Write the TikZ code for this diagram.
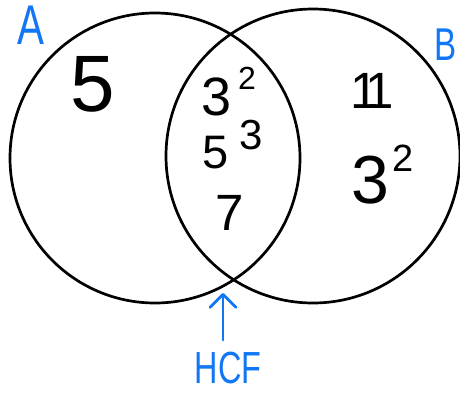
\documentclass[tikz,border=0pt]{standalone}
\usepackage{fontspec}
\setmainfont{Liberation Sans}
\newfontfamily\narrowfont[FakeStretch=0.72]{Liberation Sans}
\usepackage{tikz}
\usetikzlibrary{arrows.meta}
\definecolor{HBlue}{HTML}{1277F5}

\begin{document}
\begin{tikzpicture}[x=1pt,y=-1pt,
  every node/.style={inner sep=0pt,outer sep=0pt},
  set/.style={draw,circle,line width=2.7pt},
  num/.style={font=\fontsize{#1}{#1}\selectfont},
  tag/.style={text=HBlue,font=\narrowfont\fontsize{#1}{#1}\selectfont},
  arr/.style={-{Straight Barb[length=13pt,width=26pt,round]},line width=2.8pt,
    color=HBlue,line cap=round}
]
  \useasboundingbox (0,0) rectangle (460,394);
  % the two sets
  \node[set,minimum size=290pt] (setA) at (155,158) {};
  \node[set,minimum size=294pt] (setB) at (313,156) {};
  \coordinate (meet) at (223,293);

  \node[tag=56] (labA) at (31,25) {A};
  \node[tag=46] (labB) at (446,45) {B};

  % factors
  \node[num=80] (onlyA) at (93,84) {5};
  \node[num=54,anchor=base west] (both3) at (201,115)
    {3\hspace{7pt}\raisebox{26pt}{\fontsize{32}{32}\selectfont 2}};
  \node[num=47,anchor=base west] (both5) at (202,168)
    {5\hspace{11pt}\raisebox{19pt}{\fontsize{42}{42}\selectfont 3}};
  \node[num=51] (both7) at (230,213) {7};
  \node[num=51] (onlyB11) at (372,91) {1\kern-14pt 1};
  \node[num=68,anchor=base west] (onlyB3) at (351,203)
    {3\hspace{4pt}\raisebox{32pt}{\fontsize{38}{38}\selectfont 2}};

  % highest common factor
  \node[tag=45] (hcf) at (228,368) {HCF};
  \draw[arr] ([xshift=-5pt,yshift=12pt]hcf.north) -- (meet);
\end{tikzpicture}
\end{document}
